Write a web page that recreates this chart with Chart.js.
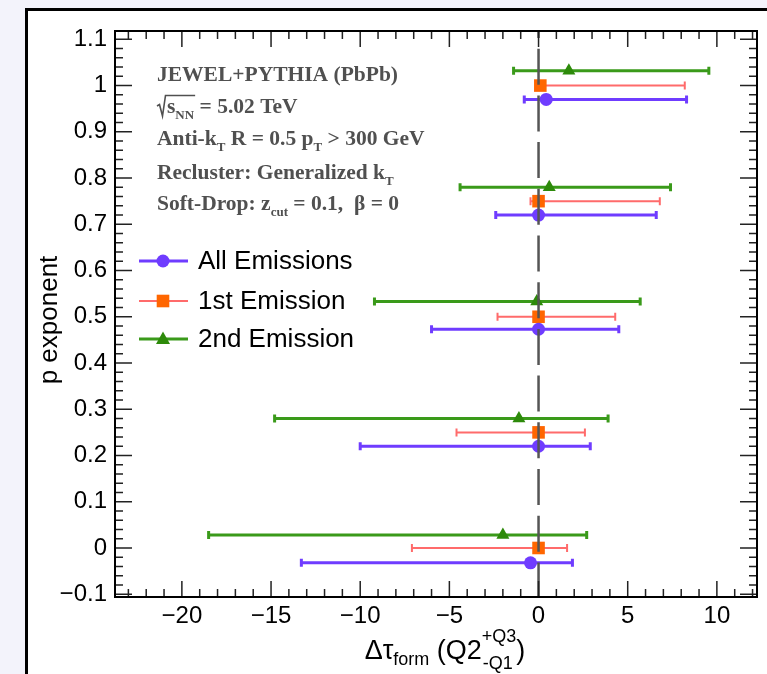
<!DOCTYPE html>
<html>
<head>
<meta charset="utf-8">
<script src="https://cdn.jsdelivr.net/npm/chart.js@4.4.1/dist/chart.umd.min.js"></script>
<style>
html, body { margin: 0; padding: 0; background: #fff; }
canvas { display: block; }
</style>
</head>
<body>
<canvas id="c" width="767" height="674"></canvas>
<script>
// values
const seriesNames = ['All Emissions', '1st Emission', '2nd Emission'];

const allX  = [-0.45, 0.0, 0.0, 0.0, 0.43];
const allY  = [-0.032, 0.22, 0.473, 0.72, 0.97];
const allLo = [-13.3, -10.0, -6.0, -2.4, -0.8];
const allHi = [1.9, 2.9, 4.5, 6.6, 8.3];

const firstX  = [0.0, 0.0, 0.0, 0.0, 0.1];
const firstY  = [0.0, 0.25, 0.5, 0.75, 1.0];
const firstLo = [-7.1, -4.6, -2.3, -0.45, -0.1];
const firstHi = [1.6, 2.6, 4.3, 6.8, 8.2];

const secondX  = [-2.0, -1.1, -0.1, 0.6, 1.7];
const secondY  = [0.028, 0.28, 0.533, 0.78, 1.032];
const secondLo = [-18.5, -14.8, -9.2, -4.4, -1.4];
const secondHi = [2.7, 3.9, 5.7, 7.4, 9.55];

const xTicks = [-20, -15, -10, -5, 0, 5, 10];
const xTickLabels = ['\u221220', '\u221215', '\u221210', '\u22125', '0', '5', '10'];
const yTicks = [-0.1, 0, 0.1, 0.2, 0.3, 0.4, 0.5, 0.6, 0.7, 0.8, 0.9, 1.0, 1.1];
const yTickLabels = ['\u22120.1', '0', '0.1', '0.2', '0.3', '0.4', '0.5', '0.6', '0.7', '0.8', '0.9', '1', '1.1'];

const SANS = '"Liberation Sans", Arial, Helvetica, sans-serif';
const SERIF = '"Liberation Serif", "Times New Roman", serif';

const styles = [
  { line: '#6f3cff', marker: '#6f3cff', lw: 3, shape: 'circle' },
  { line: '#ff6b6b', marker: '#ff6600', lw: 2, shape: 'rect' },
  { line: '#3a9a1a', marker: '#2d8a0a', lw: 3, shape: 'triangle' }
];
const lows = [allLo, firstLo, secondLo];
const highs = [allHi, firstHi, secondHi];

const toPts = (xs, ys) => xs.map((x, i) => ({ x, y: ys[i] }));

function drawMarker(ctx, shape, x, y, color) {
  ctx.fillStyle = color;
  ctx.beginPath();
  if (shape === 'circle') ctx.arc(x, y, 6.5, 0, Math.PI * 2);
  else if (shape === 'rect') ctx.rect(x - 6.3, y - 6.3, 12.6, 12.6);
  else { ctx.moveTo(x, y - 7.5); ctx.lineTo(x + 7, y + 5); ctx.lineTo(x - 7, y + 5); ctx.closePath(); }
  ctx.fill();
}

// background + outer slide frame
const backdrop = {
  id: 'backdrop',
  beforeDraw(chart) {
    const ctx = chart.ctx;
    ctx.save();
    ctx.fillStyle = '#f3f3fb';
    ctx.fillRect(0, 0, chart.width, chart.height);
    ctx.fillStyle = '#fff';
    ctx.fillRect(27, 10, chart.width - 27, chart.height - 10);
    ctx.strokeStyle = '#000';
    ctx.lineWidth = 3;
    ctx.beginPath();
    ctx.moveTo(26.5, chart.height);
    ctx.lineTo(26.5, 9.5);
    ctx.lineTo(chart.width, 9.5);
    ctx.stroke();
    ctx.restore();
  }
};

// horizontal error bars behind markers
const errorBars = {
  id: 'errorBars',
  beforeDatasetsDraw(chart) {
    const { ctx, scales: { x, y } } = chart;
    ctx.save();
    chart.data.datasets.forEach((ds, i) => {
      const st = styles[i];
      ctx.strokeStyle = st.line;
      ctx.lineWidth = st.lw;
      ds.data.forEach((p, j) => {
        const py = y.getPixelForValue(p.y);
        const x1 = x.getPixelForValue(lows[i][j]);
        const x2 = x.getPixelForValue(highs[i][j]);
        ctx.beginPath();
        ctx.moveTo(x1, py); ctx.lineTo(x2, py);
        ctx.moveTo(x1, py - 4); ctx.lineTo(x1, py + 4);
        ctx.moveTo(x2, py - 4); ctx.lineTo(x2, py + 4);
        ctx.stroke();
      });
    });
    ctx.restore();
  }
};

// ROOT-like frame with inward ticks, dashed zero line
const rootAxes = {
  id: 'rootAxes',
  afterDatasetsDraw(chart) {
    const { ctx, chartArea: a, scales: { x, y } } = chart;
    ctx.save();
    // dashed line at 0
    const x0 = x.getPixelForValue(0);
    ctx.strokeStyle = '#555';
    ctx.lineWidth = 2.5;
    ctx.setLineDash([36, 10.7]);
    ctx.lineDashOffset = 29;
    ctx.beginPath();
    ctx.moveTo(x0, a.top); ctx.lineTo(x0, a.bottom);
    ctx.stroke();
    ctx.setLineDash([]);

    ctx.strokeStyle = '#222';
    ctx.lineWidth = 1.5;
    ctx.beginPath();
    for (let v = -23; v <= 12; v++) {
      const px = x.getPixelForValue(v);
      const len = v % 5 === 0 ? 16 : 8;
      ctx.moveTo(px, a.bottom); ctx.lineTo(px, a.bottom - len);
      ctx.moveTo(px, a.top); ctx.lineTo(px, a.top + len);
    }
    for (let k = -5; k <= 55; k++) {
      const py = y.getPixelForValue(k * 0.02);
      const len = k % 5 === 0 ? 17 : 8;
      ctx.moveTo(a.left, py); ctx.lineTo(a.left + len, py);
      ctx.moveTo(a.right, py); ctx.lineTo(a.right - len, py);
    }
    ctx.stroke();

    ctx.strokeStyle = '#000';
    ctx.lineWidth = 2;
    ctx.strokeRect(a.left, a.top, a.right - a.left, a.bottom - a.top);
    ctx.restore();
  }
};

function rich(ctx, x, y, parts, size, weight, family) {
  for (const [t, m] of parts) {
    const s = m === 'n' ? size : Math.round(size * 0.62);
    ctx.font = `${weight} ${s}px ${family}`;
    const dy = m === 'sub' ? size * 0.28 : (m === 'sup' ? -size * 0.42 : 0);
    ctx.fillText(t, x, y + dy);
    x += ctx.measureText(t).width;
  }
  return x;
}

// annotation text, legend, axis titles
const labels = {
  id: 'labels',
  afterDraw(chart) {
    const ctx = chart.ctx;
    ctx.save();
    ctx.fillStyle = '#505050';
    ctx.textBaseline = 'alphabetic';
    ctx.textAlign = 'left';
    const fs = 21.5, lx = 157;
    rich(ctx, lx, 81, [['JEWEL+PYTHIA (PbPb)', 'n']], fs, 'bold', SERIF);
    // sqrt(s_NN) with a drawn radical
    const sx = 167;
    const ex = rich(ctx, sx, 113, [['s', 'n'], ['NN', 'sub']], fs, 'bold', SERIF);
    ctx.strokeStyle = '#505050';
    ctx.lineWidth = 1.6;
    ctx.beginPath();
    ctx.moveTo(157, 106); ctx.lineTo(159.5, 104.5); ctx.lineTo(162.5, 116);
    ctx.lineTo(165.5, 95.5); ctx.lineTo(ex + 1, 95.5);
    ctx.stroke();
    rich(ctx, ex, 113, [[' = 5.02 TeV', 'n']], fs, 'bold', SERIF);
    rich(ctx, lx, 145, [['Anti-k', 'n'], ['T', 'sub'], [' R = 0.5 p', 'n'], ['T', 'sub'], [' > 300 GeV', 'n']], fs, 'bold', SERIF);
    rich(ctx, lx, 179, [['Recluster: Generalized k', 'n'], ['T', 'sub']], fs, 'bold', SERIF);
    rich(ctx, lx, 210, [['Soft-Drop: z', 'n'], ['cut', 'sub'], [' = 0.1,  \u03B2 = 0', 'n']], fs, 'bold', SERIF);

    // legend
    const ly = [261, 301, 339];
    seriesNames.forEach((name, i) => {
      const st = styles[i];
      ctx.strokeStyle = st.line;
      ctx.lineWidth = st.lw;
      ctx.beginPath(); ctx.moveTo(139, ly[i]); ctx.lineTo(188, ly[i]); ctx.stroke();
      drawMarker(ctx, st.shape, 163, ly[i], st.marker);
      ctx.fillStyle = '#000';
      ctx.font = `26px ${SANS}`;
      ctx.textBaseline = 'middle';
      ctx.fillText(name, 198, ly[i] + 1);
    });

    // y title
    ctx.save();
    ctx.translate(50, 320);
    ctx.rotate(-Math.PI / 2);
    ctx.textAlign = 'center';
    ctx.textBaseline = 'middle';
    ctx.font = `26px ${SANS}`;
    ctx.fillStyle = '#000';
    ctx.fillText('p exponent', 0, 0);
    ctx.restore();

    // x title: Δτ_form (Q2^{+Q3}_{-Q1})
    ctx.fillStyle = '#000';
    ctx.textBaseline = 'alphabetic';
    ctx.textAlign = 'left';
    const big = `27px ${SANS}`, small = `18px ${SANS}`;
    const w = (t, f) => { ctx.font = f; return ctx.measureText(t).width; };
    const total = w('\u0394\u03C4', big) + w('form', small) + w(' (Q2', big) + Math.max(w('+Q3', small), w('-Q1', small)) + w(')', big);
    let tx = 445 - total / 2;
    const by = 659;
    ctx.font = big; ctx.fillText('\u0394\u03C4', tx, by); tx += w('\u0394\u03C4', big);
    ctx.font = small; ctx.fillText('form', tx, by + 6); tx += w('form', small);
    ctx.font = big; ctx.fillText(' (Q2', tx, by); tx += w(' (Q2', big);
    ctx.font = small; ctx.fillText('+Q3', tx, by - 17); ctx.fillText('-Q1', tx + 1, by + 10);
    tx += Math.max(w('+Q3', small), w('-Q1', small));
    ctx.font = big; ctx.fillText(')', tx, by);
    ctx.restore();
  }
};

const datasets = [
  toPts(allX, allY), toPts(firstX, firstY), toPts(secondX, secondY)
].map((data, i) => ({
  label: seriesNames[i],
  data,
  pointStyle: styles[i].shape,
  pointRadius: styles[i].shape === 'rect' ? 8.9 : (styles[i].shape === 'triangle' ? 7.5 : 6.5),
  pointBackgroundColor: styles[i].marker,
  pointBorderColor: styles[i].marker,
  pointBorderWidth: 0,
  showLine: false
}));

new Chart(document.getElementById('c'), {
  type: 'scatter',
  data: { datasets },
  options: {
    responsive: false,
    animation: false,
    devicePixelRatio: 1,
    layout: { padding: { left: 0, right: 10, top: 31, bottom: 0 } },
    plugins: { legend: { display: false }, tooltip: { enabled: false } },
    scales: {
      x: {
        type: 'linear', min: -23.75, max: 12.25,
        grid: { display: false, drawTicks: false },
        border: { display: false },
        afterBuildTicks: s => { s.ticks = xTicks.map(v => ({ value: v })); },
        afterFit: s => { s.height = 77; },
        ticks: {
          callback: (v, i) => xTickLabels[i],
          font: { family: SANS, size: 24 }, color: '#000',
          padding: 5, maxRotation: 0, autoSkip: false
        }
      },
      y: {
        type: 'linear', min: -0.106, max: 1.118,
        grid: { display: false, drawTicks: false },
        border: { display: false },
        afterBuildTicks: s => { s.ticks = yTicks.map(v => ({ value: v })); },
        afterFit: s => { s.width = 115; },
        ticks: {
          callback: (v, i) => yTickLabels[i],
          font: { family: SANS, size: 24 }, color: '#000',
          padding: 8, autoSkip: false
        }
      }
    }
  },
  plugins: [backdrop, errorBars, rootAxes, labels]
});
</script>
</body>
</html>
